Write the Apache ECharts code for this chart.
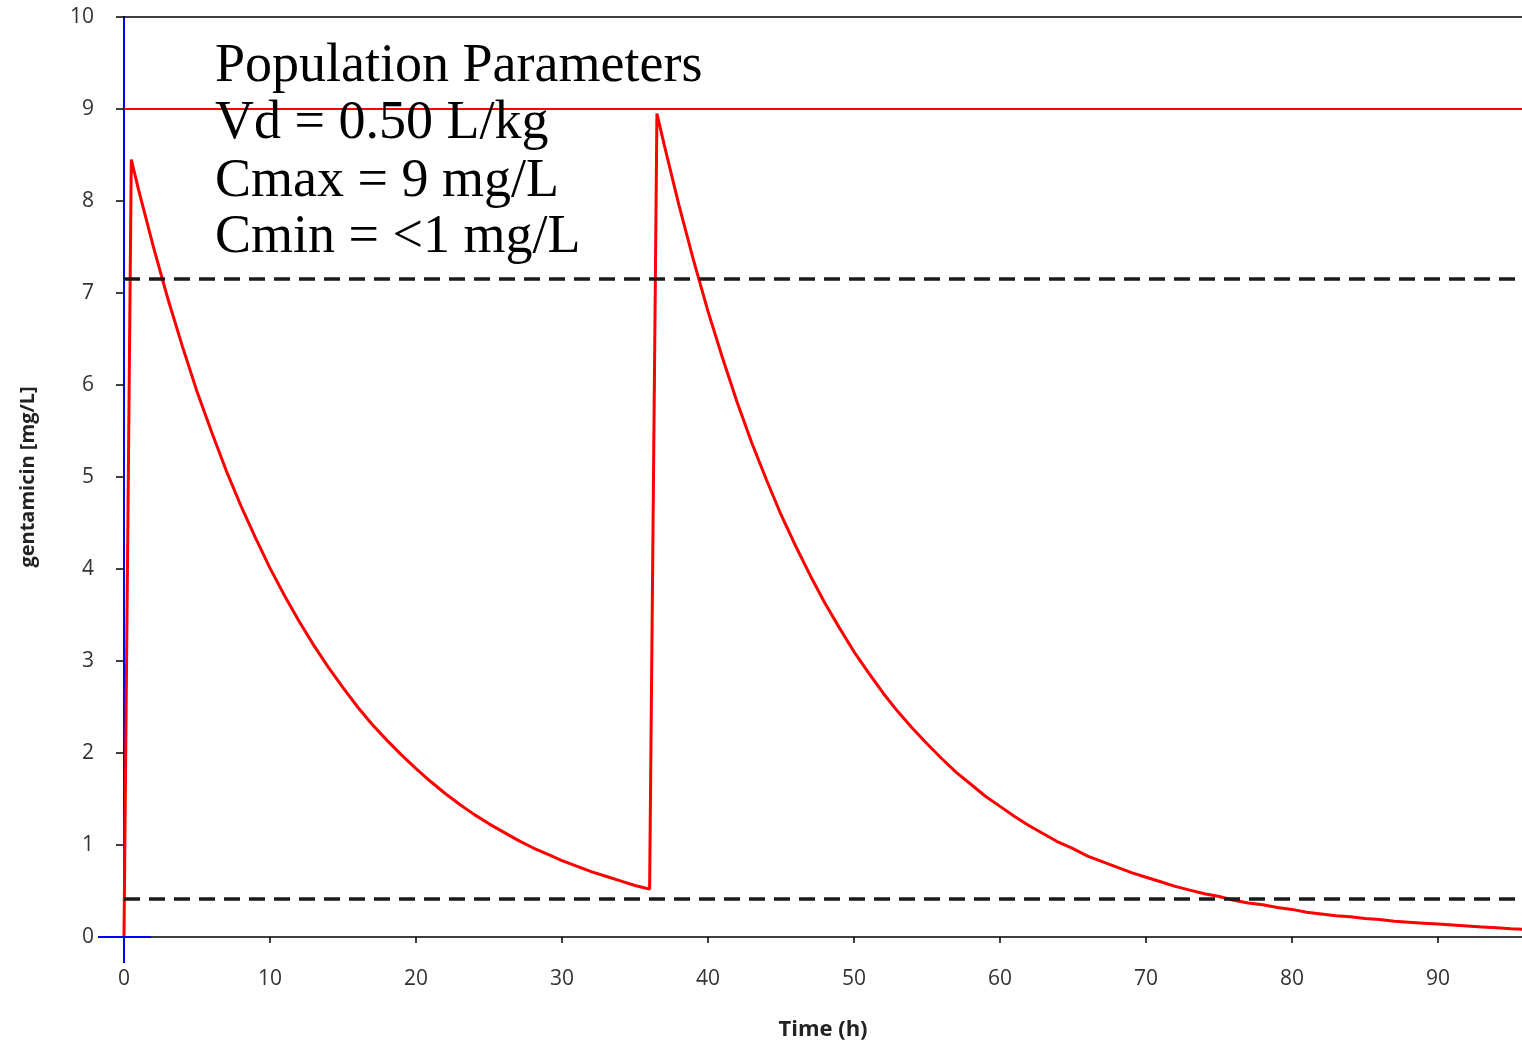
<!DOCTYPE html>
<html><head><meta charset="utf-8">
<script src="https://cdn.jsdelivr.net/npm/echarts@6/dist/echarts.min.js"></script>
<style>html,body{margin:0;padding:0;background:#fff}#c{width:1522px;height:1045px}</style>
</head><body><div id="c"></div>
<script>
const doseTimes = [0, 0.5, 1, 2, 3, 4, 5, 6, 7, 8, 9, 10, 11, 12, 13, 14, 15, 16, 17, 18, 19, 20, 21, 22, 23, 24, 25, 26, 27, 28, 29, 30, 31, 32, 33, 34, 35, 36,
  36.5, 37, 38, 39, 40, 41, 42, 43, 44, 45, 46, 47, 48, 49, 50, 51, 52, 53, 54, 55, 56, 57, 58, 59, 60, 61, 62, 63, 64, 65, 66, 67, 68, 69, 70,
  71, 72, 73, 74, 75, 76, 77, 78, 79, 80, 81, 82, 83, 84, 85, 86, 87, 88, 89, 90, 91, 92, 93, 94, 95, 95.75];
const concentration = [0, 8.45, 8.12, 7.51, 6.94, 6.42, 5.93, 5.49, 5.07, 4.69, 4.34, 4.01, 3.71, 3.43, 3.17, 2.93, 2.71, 2.50, 2.31, 2.14, 1.98, 1.83, 1.69, 1.56, 1.44, 1.33, 1.23, 1.14, 1.05, 0.97, 0.90, 0.83, 0.77, 0.71, 0.66, 0.61, 0.56, 0.52,
  8.95, 8.61, 7.96, 7.36, 6.80, 6.29, 5.81, 5.37, 4.97, 4.59, 4.25, 3.93, 3.63, 3.36, 3.10, 2.87, 2.65, 2.45, 2.27, 2.10, 1.94, 1.79, 1.66, 1.53, 1.42, 1.31, 1.21, 1.12, 1.03, 0.96, 0.88, 0.82, 0.76, 0.70, 0.65,
  0.60, 0.55, 0.51, 0.47, 0.44, 0.40, 0.37, 0.35, 0.32, 0.30, 0.27, 0.25, 0.23, 0.22, 0.20, 0.19, 0.17, 0.16, 0.15, 0.14, 0.13, 0.12, 0.11, 0.10, 0.09, 0.085];
const cmaxLimit = 9;
const upperThreshold = 7.15;
const lowerThreshold = 0.42;
const annotationLines = ['Population Parameters', 'Vd = 0.50 L/kg', 'Cmax = 9 mg/L', 'Cmin = <1 mg/L'];
const xTitle = 'Time (h)';
const yTitle = 'gentamicin [mg/L]';

const chart = echarts.init(document.getElementById('c'), null, {renderer: 'canvas'});
const labelStyle = {color: '#333', fontFamily: 'Open Sans', fontSize: 21};
chart.setOption({
  animation: false,
  grid: {left: 124, right: 0, top: 17, bottom: 108, containLabel: false, outerBoundsMode: 'none'},
  xAxis: [{
    type: 'value', min: 0, max: 95.75, interval: 10,
    name: xTitle, nameLocation: 'middle', nameGap: 82,
    nameTextStyle: {color: '#222', fontFamily: 'Open Sans', fontSize: 22, fontWeight: 'bold'},
    axisLine: {lineStyle: {color: '#000', width: 1.5}},
    axisTick: {length: 6, lineStyle: {color: '#000', width: 1.5}},
    axisLabel: Object.assign({margin: 32, showMaxLabel: false, formatter: v => (v % 10 === 0 ? String(v) : '')}, labelStyle),
    splitLine: {show: false}
  }, {
    type: 'value', position: 'top', min: 0, max: 95.75,
    axisLine: {lineStyle: {color: '#000', width: 1.5}},
    axisTick: {show: false}, axisLabel: {show: false}, splitLine: {show: false}
  }],
  yAxis: {
    type: 'value', min: 0, max: 10, interval: 1,
    name: yTitle, nameLocation: 'middle', nameGap: 86, nameRotate: 90,
    nameTextStyle: {color: '#222', fontFamily: 'Open Sans', fontSize: 20, fontWeight: 'bold'},
    axisLine: {show: true, lineStyle: {color: '#0000ff', width: 2}},
    axisTick: {show: true, length: 8, lineStyle: {color: '#000', width: 1.5}},
    axisLabel: Object.assign({margin: 30}, labelStyle),
    splitLine: {show: false}
  },
  series: [{
    type: 'line',
    data: doseTimes.map((t, i) => [t, concentration[i]]),
    showSymbol: false, symbol: 'none',
    lineStyle: {color: '#ff0000', width: 3},
    z: 3,
    markLine: {
      silent: true, symbol: 'none', label: {show: false},
      data: [
        {yAxis: cmaxLimit, lineStyle: {color: '#ff0000', width: 2, type: 'solid'}},
        {yAxis: upperThreshold, lineStyle: {color: '#1a1a1a', width: 3.5, type: [16, 9]}},
        {yAxis: lowerThreshold, lineStyle: {color: '#1a1a1a', width: 3.5, type: [16, 9]}}
      ]
    }
  }]
});

// decorations: blue axis extensions and annotation text
const p0 = chart.convertToPixel({xAxisIndex: 0, yAxisIndex: 0}, [0, 0]);
const textTops = [40, 97, 155, 211];
const textEls = annotationLines.map((s, i) => ({
  type: 'text', x: 215, y: textTops[i], z: 100,
  style: {text: s, font: '54px "Liberation Serif", "DejaVu Serif", serif', fill: '#000'}
}));
chart.setOption({
  graphic: [
    {type: 'rect', z: 100, shape: {x: p0[0] - 1, y: p0[1], width: 2, height: 26}, style: {fill: '#0000ff'}},
    {type: 'rect', z: 100, shape: {x: p0[0] - 26, y: p0[1] - 1, width: 53, height: 2}, style: {fill: '#0000ff'}}
  ].concat(textEls)
});
</script></body></html>
